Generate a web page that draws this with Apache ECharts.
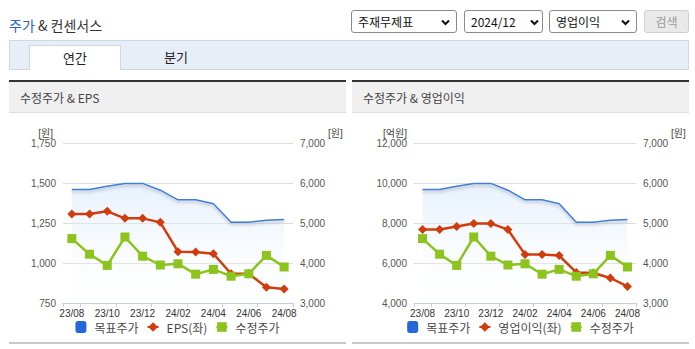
<!DOCTYPE html>
<html><head><meta charset="utf-8">
<script src="https://cdn.jsdelivr.net/npm/echarts@6/dist/echarts.min.js"></script>
<style>
html,body{margin:0;padding:0;background:#fff;width:695px;height:349px;overflow:hidden;font-family:"Noto Sans CJK KR","Noto Sans",sans-serif;}
.abs{position:absolute;}
#title{left:9px;top:15px;font-size:14px;color:#333;line-height:20px;white-space:nowrap;}
#title .b{color:#2a64c8;}
.sel{position:absolute;top:10px;height:21px;border:1px solid #8a8a8a;border-radius:3px;background:#fff;font-size:12px;color:#111;line-height:21px;box-sizing:content-box;}
.sel span{position:absolute;left:6px;top:0;}
.sel svg{position:absolute;top:8px;}
#btn{position:absolute;left:644px;top:10px;width:43px;height:21px;border:1px solid #d0d0d0;border-radius:3px;background:#e9e9e9;color:#9a9a9a;font-size:12px;line-height:21px;text-align:center;}
#tabbar{position:absolute;left:9px;top:40px;width:678px;height:28px;background:#e8eef8;border:1px solid #cdd7e6;}
#tab1{position:absolute;left:29px;top:45px;width:90px;height:24px;background:#fff;border:1px solid #cdd7e6;border-bottom:none;font-size:13px;color:#222;line-height:23px;text-align:center;}
#tab2{position:absolute;left:131px;top:45px;width:90px;height:24px;font-size:13px;color:#222;line-height:23px;text-align:center;}
.ph{position:absolute;top:80px;width:337px;height:30px;border-top:2px solid #333;background:#f0f0f0;border-bottom:1px solid #dedede;font-size:12px;color:#444;line-height:31px;}
.ph span{padding-left:11px;}
.pb{position:absolute;top:342px;width:337px;height:2px;background:#c8c8c8;}
.chart{position:absolute;top:113px;width:337px;height:229px;}
</style></head>
<body>
<div id="title" class="abs"><span class="b">주가</span> &amp; 컨센서스</div>
<div class="sel" style="left:351px;width:104px;"><span>주재무제표</span><svg style="left:89px" width="9" height="7" viewBox="0 0 9 7"><polyline points="1,1.5 4.5,5 8,1.5" fill="none" stroke="#111" stroke-width="2"/></svg></div>
<div class="sel" style="left:464px;width:77px;"><span>2024/12</span><svg style="left:65px" width="9" height="7" viewBox="0 0 9 7"><polyline points="1,1.5 4.5,5 8,1.5" fill="none" stroke="#111" stroke-width="2"/></svg></div>
<div class="sel" style="left:549px;width:86px;"><span>영업이익</span><svg style="left:71px" width="9" height="7" viewBox="0 0 9 7"><polyline points="1,1.5 4.5,5 8,1.5" fill="none" stroke="#111" stroke-width="2"/></svg></div>
<div id="btn">검색</div>
<div id="tabbar"></div>
<div id="tab1">연간</div>
<div id="tab2">분기</div>
<div class="ph" style="left:9px;"><span>수정주가 &amp; EPS</span></div>
<div class="ph" style="left:352px;"><span>수정주가 &amp; 영업이익</span></div>
<div id="c1" class="chart" style="left:9px;"></div>
<div id="c2" class="chart" style="left:352px;"></div>
<div class="pb" style="left:9px;"></div>
<div class="pb" style="left:352px;"></div>
<script>
// ---- data ----
var months = ['23/08','23/09','23/10','23/11','23/12','24/01','24/02','24/03','24/04','24/05','24/06','24/07','24/08'];
var targetPrice = [5840, 5840, 5920, 5990, 5990, 5820, 5580, 5580, 5480, 5020, 5020, 5070, 5090];
var adjPrice = [4610, 4220, 3940, 4650, 4170, 3950, 3980, 3720, 3840, 3670, 3730, 4190, 3900];
var eps = [1306, 1306, 1323, 1279, 1279, 1254, 1071, 1069, 1058, 933, 933, 848, 837];
var opProfit = [7670, 7670, 7830, 7980, 7980, 7670, 6430, 6430, 6370, 5530, 5500, 5250, 4830];
var epsAxis = {min: 750, max: 1750, interval: 250};
var opAxis = {min: 4000, max: 12000, interval: 2000};
var priceAxis = {min: 3000, max: 7000, interval: 1000};
var names = {target: '목표주가', adj: '수정주가', eps: 'EPS(좌)', op: '영업이익(좌)'};

var NUMFONT = '"Liberation Sans Narrow","Liberation Sans","Noto Sans CJK KR",sans-serif';
var BLUE = '#3f7fd6', RED = '#d03c0c', GREEN = '#8cc31c';

function makeOption(leftName, leftData, leftAxis, gridLeft, leftUnit, leftNamePad) {
  return {
    animation: false,
    grid: {left: gridLeft, right: 53, top: 30, height: 160},
    legend: {
      top: 203, left: 'center', itemWidth: 11, itemHeight: 12, itemGap: 8,
      padding: [5, 5, 5, 12],
      textStyle: {fontSize: 12, color: '#4a4a4a', fontFamily: '"Noto Sans CJK KR",sans-serif', padding: [0,0,0,3]},
      data: [
        {name: names.target, icon: 'roundRect', itemStyle: {color: '#2468d8'}},
        {name: leftName},
        {name: names.adj}
      ]
    },
    xAxis: {
      type: 'category', data: months, boundaryGap: true,
      axisLine: {lineStyle: {color: '#c6cedb', width: 1}},
      axisTick: {show: true, length: 4, lineStyle: {color: '#c6cedb'},
        interval: function (i) { return i === 0 || i % 2 === 1; }},
      axisLabel: {interval: 1, fontSize: 10, color: '#333', margin: 5, fontFamily: NUMFONT},
      splitLine: {show: false}
    },
    yAxis: [
      {
        type: 'value', min: leftAxis.min, max: leftAxis.max, interval: leftAxis.interval,
        name: leftUnit, nameLocation: 'end', nameGap: 5,
        nameTextStyle: {fontSize: 10, color: '#444', align: 'right', padding: [0, leftNamePad, 0, 0], fontFamily: NUMFONT},
        axisLine: {show: false}, axisTick: {show: false},
        axisLabel: {fontSize: 10, color: '#555', margin: 7, fontFamily: NUMFONT,
          formatter: function (v) { return v.toLocaleString('en-US'); }},
        splitLine: {lineStyle: {color: '#dcdcdc', width: 1}}
      },
      {
        type: 'value', min: priceAxis.min, max: priceAxis.max, interval: priceAxis.interval,
        name: '[원]', nameLocation: 'end', nameGap: 5,
        nameTextStyle: {fontSize: 10, color: '#444', align: 'left', padding: [0, 0, 0, 35], fontFamily: NUMFONT},
        axisLine: {show: false}, axisTick: {show: false},
        axisLabel: {fontSize: 10, color: '#555', margin: 7, fontFamily: NUMFONT,
          formatter: function (v) { return v.toLocaleString('en-US'); }},
        splitLine: {show: false}
      }
    ],
    series: [
      {
        name: names.target, type: 'line', yAxisIndex: 1, data: targetPrice,
        symbol: 'none', z: 1,
        lineStyle: {color: BLUE, width: 1.5, shadowColor: 'rgba(0,0,0,0.25)', shadowBlur: 3, shadowOffsetY: 2},
        itemStyle: {color: '#2468d8'},
        areaStyle: {color: new echarts.graphic.LinearGradient(0, 0, 0, 1, [
          {offset: 0, color: 'rgba(214,231,250,0.85)'},
          {offset: 1, color: 'rgba(255,255,255,0.2)'}
        ])}
      },
      {
        name: leftName, type: 'line', yAxisIndex: 0, data: leftData,
        symbol: 'diamond', symbolSize: 9, z: 3,
        lineStyle: {color: RED, width: 2.5}, itemStyle: {color: RED}
      },
      {
        name: names.adj, type: 'line', yAxisIndex: 1, data: adjPrice,
        symbol: 'rect', symbolSize: 9, z: 4,
        lineStyle: {color: GREEN, width: 2.5}, itemStyle: {color: GREEN}
      }
    ]
  };
}

var c1 = echarts.init(document.getElementById('c1'), null, {renderer: 'svg'});
c1.setOption(makeOption(names.eps, eps, epsAxis, 54, '[원]', 10));
var c2 = echarts.init(document.getElementById('c2'), null, {renderer: 'svg'});
c2.setOption(makeOption(names.op, opProfit, opAxis, 62, '[억원]', 7));
</script>
</body></html>
